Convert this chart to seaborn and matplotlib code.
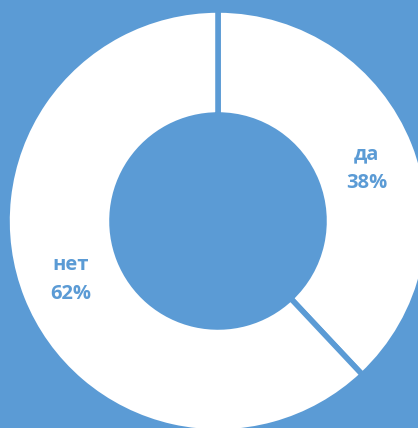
import matplotlib
matplotlib.use("Agg")
import matplotlib.pyplot as plt
import seaborn as sns

categories = ["да", "нет"]
shares = [38, 62]

sns.set_theme(style="white")
plt.rcParams["font.family"] = ["Open Sans", "DejaVu Sans"]

blue = "#5B9BD5"
W, H = 418, 428
fig = plt.figure(figsize=(W / 100, H / 100), dpi=100, facecolor=blue)
ax = fig.add_axes([0, 0, 1, 1])
ax.set_facecolor(blue)

outer_r = 211
inner_r = 106
labels = [f"{c}\n{v}%" for c, v in zip(categories, shares)]
wedges, texts = ax.pie(
    shares,
    labels=labels,
    colors=["white", "white"],
    startangle=90,
    counterclock=False,
    center=(218, H - 221),
    radius=outer_r,
    labeldistance=((outer_r + inner_r) / 2) / outer_r,
    wedgeprops=dict(width=outer_r - inner_r, edgecolor=blue, linewidth=4),
    textprops=dict(color=blue, fontsize=14.5, fontweight="bold",
                   ha="center", va="center", linespacing=1.6),
    frame=True,
)
# nudge the smaller slice's label slightly down
x0, y0 = texts[0].get_position()
texts[0].set_position((x0 + 1, y0 - 6))

ax.set_xlim(0, W)
ax.set_ylim(0, H)
ax.set_aspect("equal")
ax.axis("off")

fig.savefig("out.png", dpi=100, facecolor=blue)
